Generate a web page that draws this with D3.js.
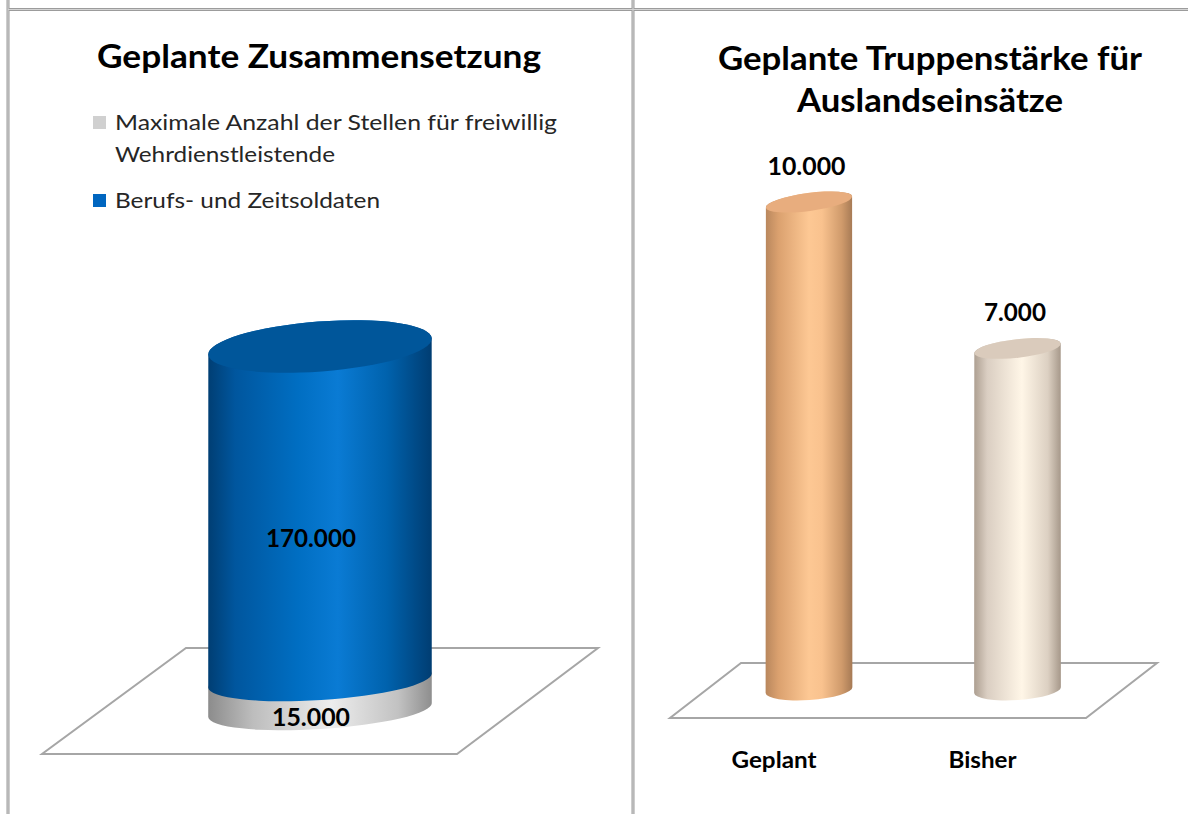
<!DOCTYPE html>
<html>
<head>
<meta charset="utf-8">
<script src="https://cdn.jsdelivr.net/npm/d3@7"></script>
<style>
  body { margin: 0; background: #fff; }
  svg { display: block; font-family: Lato, "Open Sans", sans-serif; }
</style>
</head>
<body>
<div id="chart"></div>
<script>
// data
const leftTitle = "Geplante Zusammensetzung";
const stackKeys = ["Wehrdienst", "Berufs"];
const legendLines = [
    ["Maximale Anzahl der Stellen für freiwillig", "Wehrdienstleistende"],
    ["Berufs- und Zeitsoldaten"]
];
const stackValues = [15000, 170000];

const rightTitle = ["Geplante Truppenstärke für", "Auslandseinsätze"];
const categories = ["Geplant", "Bisher"];
const troopValues = [10000, 7000];

const de = d3.formatLocale({ decimal: ",", thousands: ".", grouping: [3], currency: ["", " €"] });
const fmt = de.format(",");

const W = 1188, H = 814;
const svg = d3.select("#chart").append("svg")
    .attr("width", W)
    .attr("height", H);

const defs = svg.append("defs");
function hGradient(id, stops) {
    const g = defs.append("linearGradient").attr("id", id)
        .attr("x1", "0%").attr("x2", "100%").attr("y1", "0%").attr("y2", "0%");
    stops.forEach(([o, c]) => g.append("stop").attr("offset", o).attr("stop-color", c));
}
hGradient("gBlue", [["0%", "#003e73"], ["12%", "#00569e"], ["40%", "#006ec2"], ["58%", "#0a7bd4"], ["80%", "#0062ad"], ["100%", "#003d72"]]);
hGradient("gGray", [["0%", "#8c8c8c"], ["20%", "#bdbdbd"], ["55%", "#ededed"], ["85%", "#c2c2c2"], ["100%", "#8e8e8e"]]);
hGradient("gOrange", [["0%", "#b9875d"], ["15%", "#dba16f"], ["50%", "#fdc894"], ["65%", "#f9c28e"], ["88%", "#cf9a6b"], ["100%", "#a67a55"]]);
hGradient("gCream", [["0%", "#ad9f91"], ["15%", "#dacec2"], ["55%", "#fff6e7"], ["85%", "#dcd0c2"], ["100%", "#a6988a"]]);

// frame lines
const frame = svg.append("g").attr("stroke", "#9c9c9c").attr("stroke-width", 3);
frame.append("line").attr("x1", 8).attr("x2", 8).attr("y1", 0).attr("y2", H);
frame.append("line").attr("x1", 633).attr("x2", 633).attr("y1", 0).attr("y2", H);
frame.append("line").attr("x1", 8).attr("x2", W).attr("y1", 9.5).attr("y2", 9.5);
const frameIn = svg.append("g").attr("stroke", "#d4d4d4").attr("stroke-width", 1);
frameIn.append("line").attr("x1", 8).attr("x2", 8).attr("y1", 0).attr("y2", H);
frameIn.append("line").attr("x1", 633).attr("x2", 633).attr("y1", 0).attr("y2", H);
frameIn.append("line").attr("x1", 8).attr("x2", W).attr("y1", 9.5).attr("y2", 9.5);

// helpers for the 3d cylinders
function ell(cx, cy, a, b, rot) {
    const t = rot * Math.PI / 180;
    return {
        cx, cy, a, b, rot,
        left: [cx - a * Math.cos(t), cy - a * Math.sin(t)],
        right: [cx + a * Math.cos(t), cy + a * Math.sin(t)]
    };
}
function bodyPath(e0, e1) {
    return `M${e0.left} L${e1.left} A${e1.a},${e1.b} ${e1.rot} 0 1 ${e1.right} ` +
        `L${e0.right} A${e0.a},${e0.b} ${e0.rot} 0 1 ${e0.left} Z`;
}
function drawText(g, txt, x, y, size, weight, len, anchor = "middle", fill = "#000") {
    return g.append("text")
        .attr("x", x).attr("y", y)
        .attr("text-anchor", anchor)
        .attr("font-size", size)
        .attr("font-weight", weight)
        .attr("fill", fill)
        .attr("textLength", len)
        .attr("lengthAdjust", "spacingAndGlyphs")
        .text(txt);
}

// ---------------- left chart ----------------
const left = svg.append("g");
drawText(left, leftTitle, 319, 68, 33, "bold", 444);

const legendColors = ["#d0d0d0", "#0066c0"];
const legendY = [130, 208];
const legendLens = [[442, 220], [265]];
legendLines.forEach((lines, i) => {
    left.append("rect")
        .attr("x", 93).attr("y", legendY[i] - 14)
        .attr("width", 13).attr("height", 13)
        .attr("fill", legendColors[i]);
    lines.forEach((ln, j) => {
        drawText(left, ln, 115, legendY[i] + j * 32, 21.5, "normal", legendLens[i][j], "start", "#262626");
    });
});

// floor
left.append("path")
    .attr("d", "M186,648 L598,648 L457,754 L42,754 Z")
    .attr("fill", "#fff")
    .attr("stroke", "#a6a6a6")
    .attr("stroke-width", 2);

const xL = d3.scaleBand().domain([leftTitle]).range([28.8, 611.2]).paddingInner(0).paddingOuter(0.8);
const total = d3.sum(stackValues);
const yL = d3.scaleLinear().domain([0, total]).range([710, 346.5]);
const aL = xL.bandwidth() / 2;
const cxL = xL(leftTitle) + aL;
const ellL = v => {
    const t = v / total;
    return ell(cxL, yL(v), aL, 19 + (25 - 19) * t, -3.6 + (-4.3 + 3.6) * t);
};

const stack = d3.stack().keys(stackKeys)([Object.fromEntries(stackKeys.map((k, i) => [k, stackValues[i]]))]);
const fills = ["url(#gGray)", "url(#gBlue)"];
stack.forEach((s, i) => {
    const [lo, hi] = s[0];
    const e0 = ellL(lo), e1 = ellL(hi);
    left.append("path").attr("d", bodyPath(e0, e1)).attr("fill", fills[i]);
});
const topL = ellL(total);
left.append("ellipse")
    .attr("cx", topL.cx).attr("cy", topL.cy)
    .attr("rx", topL.a).attr("ry", topL.b)
    .attr("transform", `rotate(${topL.rot},${topL.cx},${topL.cy})`)
    .attr("fill", "#00569a");

const valueLens = { 6: 78, 7: 90, 5: 62 };
stack.forEach((s, i) => {
    const [lo, hi] = s[0];
    const e0 = ellL(lo), e1 = ellL(hi);
    const mid = ((e0.cy + e0.b) + (e1.cy + e1.b)) / 2 + 3;
    const txt = fmt(stackValues[i]);
    drawText(left, txt, cxL - 9, mid + 8.5, 24, "bold", valueLens[txt.length]);
});

// ---------------- right chart ----------------
const right = svg.append("g");
drawText(right, rightTitle[0], 930, 70, 33, "bold", 424);
drawText(right, rightTitle[1], 930, 112, 33, "bold", 266);

right.append("path")
    .attr("d", "M741,663 L1157,663 L1086,718 L670,718 Z")
    .attr("fill", "#fff")
    .attr("stroke", "#a6a6a6")
    .attr("stroke-width", 2);

const xR = d3.scaleBand().domain(categories).range([661.25, 1165.25]).paddingInner(0.583).paddingOuter(0.5);
const yR = d3.scaleLinear().domain([0, 10000]).range([690, 202]);
const aR = xR.bandwidth() / 2;
const ellR = (cx, v) => {
    const t = v / 10000;
    return ell(cx, yR(v), aR, 10 + (9 - 10) * t, -4 + (-7.5 + 4) * t);
};
const bodyFills = ["url(#gOrange)", "url(#gCream)"];
const topFills = ["#e8ad7e", "#dacbbc"];
const catLens = [85, 68];

categories.forEach((c, i) => {
    const cx = xR(c) + aR;
    const e0 = ellR(cx, 0), e1 = ellR(cx, troopValues[i]);
    right.append("path").attr("d", bodyPath(e0, e1)).attr("fill", bodyFills[i]);
    right.append("ellipse")
        .attr("cx", e1.cx).attr("cy", e1.cy)
        .attr("rx", e1.a).attr("ry", e1.b)
        .attr("transform", `rotate(${e1.rot},${e1.cx},${e1.cy})`)
        .attr("fill", topFills[i]);
    const txt = fmt(troopValues[i]);
    drawText(right, txt, cx - 2.5, e1.cy - 27, 24, "bold", valueLens[txt.length]);
    drawText(right, c, cx - 35, 768, 23, "bold", catLens[i]);
});
</script>
</body>
</html>
